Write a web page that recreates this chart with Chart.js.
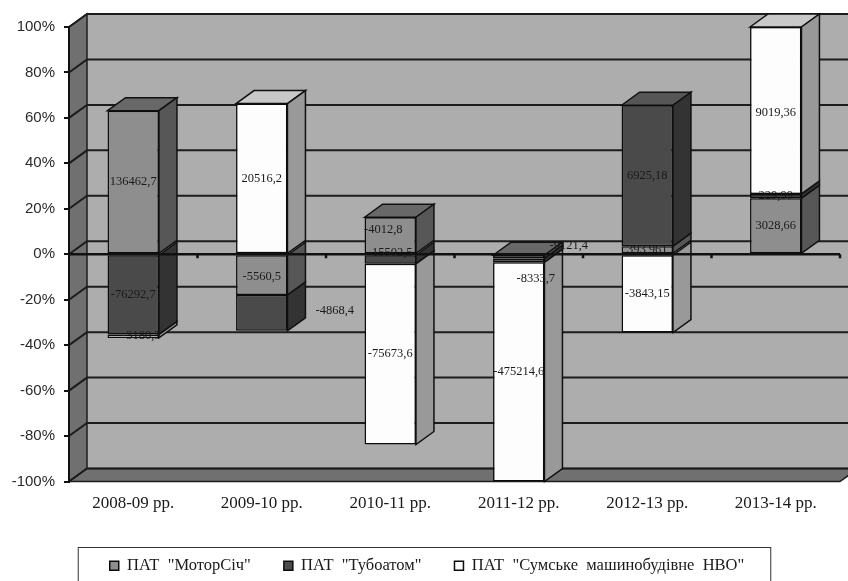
<!DOCTYPE html>
<html>
<head>
<meta charset="utf-8">
<title>ПАТ</title>
<script src="https://cdn.jsdelivr.net/npm/chart.js@4/dist/chart.umd.min.js"></script>
<style>
    body { margin: 0; background: #fff; }
    canvas { display: block; }
</style>
</head>
<body>
<canvas id="chart" width="848" height="581"></canvas>
<script>
// дані діаграми
const categories = ['2008-09 рр.', '2009-10 рр.', '2010-11 рр.', '2011-12 рр.', '2012-13 рр.', '2013-14 рр.'];
const motorSich = [136462.7, -5560.5, 15502.5, -9121.4, 393.961, 3028.66];
const tuboatom = [-76292.7, -4868.4, -4012.8, -8333.7, 6925.18, 229.99];
const sumyNvo = [-3180.3, 20516.2, -75673.6, -475214.6, -3843.15, 9019.36];
const seriesNames = ['ПАТ  "МоторСіч"', 'ПАТ  "Тубоатом"', 'ПАТ  "Сумське  машинобудівне  НВО"'];

// зсуви підписів відносно центру сегмента
const labelShifts = [
    [[0, 0], [0, 2], [2, 17], [50, -11], [0, 0], [0, 0]],
    [[0, 0], [73, -2], [-7, -30], [17, 18], [0, 0], [0, 0]],
    [[8, 0], [0, 0], [0, 0], [0, 0], [0, 0], [0, 2]]
];

const series = [motorSich, tuboatom, sumyNvo];
const frontColors = ['#8e8e8e', '#4a4a4a', '#fdfdfd'];
const sideColors = ['#575757', '#333333', '#999999'];
const topColors = ['#686868', '#565656', '#c8c8c8'];
const depthX = 18;
const depthY = 13;

// частка значення у стовпчику, %
function share(value, i) {
    const total = series.reduce((sum, s) => sum + Math.abs(s[i]), 0);
    return value / total * 100;
}

function poly(ctx, points, fill) {
    ctx.beginPath();
    points.forEach((p, i) => i ? ctx.lineTo(p[0], p[1]) : ctx.moveTo(p[0], p[1]));
    ctx.closePath();
    ctx.fillStyle = fill;
    ctx.fill();
    ctx.stroke();
}

const box3d = {
    id: 'box3d',
    // легенда трохи правіше центру
    afterLayout(chart) {
        chart.legend.right += 14;
    },
    // стінки та лінії сітки
    beforeDraw(chart) {
        const { ctx, chartArea: a, scales: { y } } = chart;
        ctx.save();
        ctx.strokeStyle = '#1c1c1c';
        ctx.lineWidth = 1.5;
        ctx.fillStyle = '#adadad';
        ctx.fillRect(a.left + depthX, a.top - depthY, a.width, a.height);
        poly(ctx, [[a.left, a.top], [a.left + depthX, a.top - depthY], [a.left + depthX, a.bottom - depthY], [a.left, a.bottom]], '#707070');
        poly(ctx, [[a.left, a.bottom], [a.left + depthX, a.bottom - depthY], [a.right + depthX, a.bottom - depthY], [a.right, a.bottom]], '#707070');
        ctx.lineWidth = 2;
        y.ticks.forEach(t => {
            const py = y.getPixelForValue(t.value);
            ctx.beginPath();
            ctx.moveTo(a.left, py);
            ctx.lineTo(a.left + depthX, py - depthY);
            ctx.lineTo(a.right + depthX, py - depthY);
            ctx.stroke();
        });
        ctx.restore();
    },
    // бокові та верхні грані стовпчиків
    beforeDatasetsDraw(chart) {
        const { ctx } = chart;
        ctx.save();
        ctx.strokeStyle = '#111';
        ctx.lineWidth = 1.5;
        categories.forEach((c, i) => {
            let upper = null;
            series.forEach((s, d) => {
                const bar = chart.getDatasetMeta(d).data[i];
                const top = Math.min(bar.y, bar.base);
                if (!upper || top < upper.top) upper = { bar, top, d };
            });
            const l = upper.bar.x - upper.bar.width / 2;
            const r = upper.bar.x + upper.bar.width / 2;
            poly(ctx, [[l, upper.top], [l + depthX, upper.top - depthY], [r + depthX, upper.top - depthY], [r, upper.top]], topColors[upper.d]);
            series.forEach((s, d) => {
                const bar = chart.getDatasetMeta(d).data[i];
                const top = Math.min(bar.y, bar.base);
                const bottom = Math.max(bar.y, bar.base);
                poly(ctx, [[r, top], [r + depthX, top - depthY], [r + depthX, bottom - depthY], [r, bottom]], sideColors[d]);
            });
        });
        ctx.restore();
    },
    // нульова лінія, підписи значень
    afterDatasetsDraw(chart) {
        const { ctx, chartArea: a, scales: { y } } = chart;
        const zero = y.getPixelForValue(0);
        ctx.save();
        ctx.strokeStyle = '#111';
        ctx.lineWidth = 2.5;
        ctx.beginPath();
        ctx.moveTo(a.left, zero);
        ctx.lineTo(a.right, zero);
        categories.forEach((c, i) => {
            const px = a.left + (i + 1) * a.width / categories.length;
            ctx.moveTo(px, zero);
            ctx.lineTo(px, zero + 4);
        });
        ctx.stroke();

        ctx.font = '12.5px "Liberation Serif"';
        ctx.fillStyle = '#1a1a1a';
        ctx.textAlign = 'center';
        ctx.textBaseline = 'middle';
        series.forEach((s, d) => {
            s.forEach((v, i) => {
                const bar = chart.getDatasetMeta(d).data[i];
                const shift = labelShifts[d][i];
                ctx.fillText(String(v).replace('.', ','), bar.x + shift[0], (bar.y + bar.base) / 2 + shift[1]);
            });
        });
        ctx.restore();
    },
    // рамка легенди
    afterDraw(chart) {
        const { ctx } = chart;
        const boxes = chart.legend.legendHitBoxes;
        const last = boxes[boxes.length - 1];
        ctx.save();
        ctx.strokeStyle = '#333';
        ctx.lineWidth = 1;
        ctx.strokeRect(boxes[0].left - 31.5, 547.5, last.left + last.width - boxes[0].left + 58, 50);
        ctx.restore();
    }
};

new Chart(document.getElementById('chart'), {
    type: 'bar',
    data: {
        labels: categories,
        datasets: series.map((s, d) => ({
            label: seriesNames[d],
            data: s.map((v, i) => share(v, i)),
            backgroundColor: frontColors[d],
            borderColor: '#0c0c0c',
            borderWidth: 1.5,
            borderSkipped: false,
            barPercentage: 0.4,
            categoryPercentage: 1
        }))
    },
    options: {
        responsive: false,
        animation: false,
        layout: { padding: { top: 27, right: 8, left: 0, bottom: -3 } },
        plugins: {
            tooltip: { enabled: false },
            legend: {
                position: 'bottom',
                labels: {
                    boxWidth: 9,
                    boxHeight: 9,
                    padding: 33,
                    color: '#1a1a1a',
                    font: { family: '"Liberation Serif"', size: 16.5 }
                }
            }
        },
        scales: {
            x: {
                stacked: true,
                afterFit: s => { s.height = 43; },
                border: { display: false },
                grid: { display: false },
                ticks: {
                    padding: 4,
                    maxRotation: 0,
                    color: '#1a1a1a',
                    font: { family: '"Liberation Serif"', size: 17 }
                }
            },
            y: {
                stacked: true,
                min: -100,
                max: 100,
                afterFit: s => { s.width = 69; },
                border: { color: '#111', width: 2 },
                grid: { drawOnChartArea: false, color: '#111', tickLength: 5, lineWidth: 2 },
                ticks: {
                    stepSize: 20,
                    padding: 9,
                    color: '#2a2a2a',
                    font: { family: '"Liberation Sans"', size: 15 },
                    callback: v => v + '%'
                }
            }
        }
    },
    plugins: [box3d]
});
</script>
</body>
</html>
